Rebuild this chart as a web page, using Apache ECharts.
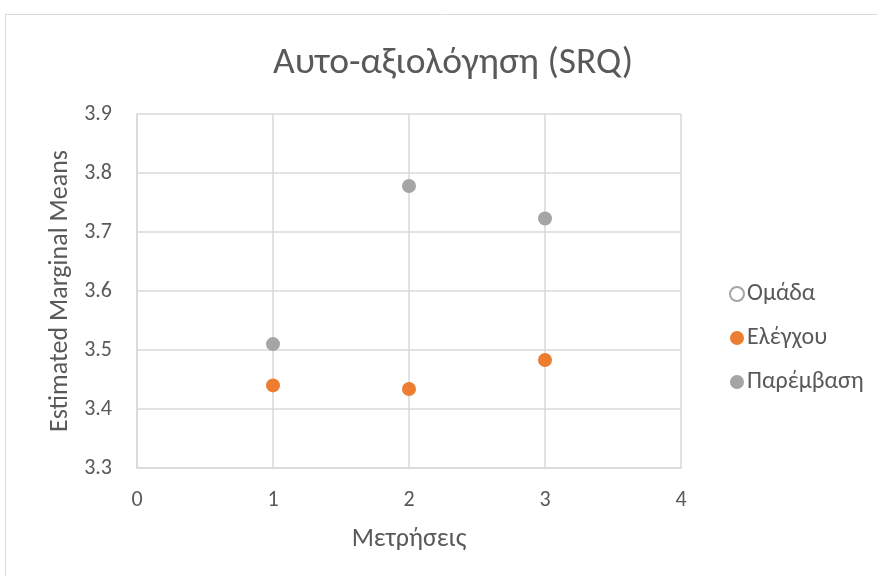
<!DOCTYPE html>
<html>
<head>
<meta charset="utf-8">
<script src="https://cdn.jsdelivr.net/npm/echarts@6/dist/echarts.min.js"></script>
<style>
  html, body { margin: 0; padding: 0; background: #fff; }
  #chart { width: 877px; height: 576px; }
</style>
</head>
<body>
<div id="chart"></div>
<script>
// Measurement occasions and estimated marginal means per group
const measurements = [1, 2, 3];
const controlMeans = [3.440, 3.434, 3.483];
const interventionMeans = [3.510, 3.778, 3.723];
const seriesNames = ['Ομάδα', 'Ελέγχου', 'Παρέμβαση'];

const font = 'Carlito, Lato, "Open Sans", sans-serif';
const textColor = '#595959';
const gridColor = '#d9d9d9';

const toPoints = (xs, ys) => xs.map((x, i) => [x, ys[i]]);

const chart = echarts.init(document.getElementById('chart'), null, { renderer: 'canvas' });
chart.setOption({
  backgroundColor: '#fff',
  animation: false,
  textStyle: { fontFamily: font },
  graphic: [{
    type: 'rect',
    shape: { x: 5.5, y: 14.5, width: 890, height: 580 },
    style: { fill: 'none', stroke: gridColor, lineWidth: 1 },
    silent: true
  }],
  title: {
    text: 'Αυτο-αξιολόγηση (SRQ)',
    left: 268,
    top: 40,
    textStyle: { fontFamily: font, fontSize: 37.5, fontWeight: 'normal', color: textColor }
  },
  grid: { left: 137, right: 196, top: 114, bottom: 108 },
  legend: {
    orient: 'vertical',
    left: 724,
    top: 277,
    itemGap: 20,
    itemWidth: 14,
    itemHeight: 14,
    icon: 'circle',
    textStyle: { fontFamily: font, fontSize: 24, color: textColor, padding: [0, 0, 0, -2] },
    data: seriesNames
  },
  xAxis: {
    type: 'value',
    min: 0, max: 4, interval: 1,
    name: 'Μετρήσεις',
    nameLocation: 'middle',
    nameGap: 58,
    nameTextStyle: { fontFamily: font, fontSize: 26, color: textColor },
    axisLine: { show: true, lineStyle: { color: gridColor, width: 1.5 } },
    axisTick: { show: false },
    axisLabel: { fontFamily: font, fontSize: 22, color: textColor, margin: 21 },
    splitLine: { show: true, lineStyle: { color: gridColor, width: 1.5 } }
  },
  yAxis: {
    type: 'value',
    min: 3.3, max: 3.9, interval: 0.1,
    name: 'Estimated Marginal Means',
    nameLocation: 'middle',
    nameGap: 62,
    nameTextStyle: { fontFamily: font, fontSize: 26, color: textColor },
    axisLine: { show: true, lineStyle: { color: gridColor, width: 1.5 } },
    axisTick: { show: false },
    axisLabel: { fontFamily: font, fontSize: 22, color: textColor, margin: 25,
      formatter: v => v.toFixed(1) },
    splitLine: { show: true, lineStyle: { color: gridColor, width: 1.5 } }
  },
  series: [
    {
      name: seriesNames[0],
      type: 'scatter',
      data: [],
      itemStyle: { color: '#ffffff', borderColor: '#a5a5a5', borderWidth: 1.2, opacity: 1 }
    },
    {
      name: seriesNames[1],
      type: 'scatter',
      symbolSize: 14,
      data: toPoints(measurements, controlMeans),
      itemStyle: { color: '#ed7d31', opacity: 1 }
    },
    {
      name: seriesNames[2],
      type: 'scatter',
      symbolSize: 14,
      data: toPoints(measurements, interventionMeans),
      itemStyle: { color: '#a5a5a5', opacity: 1 }
    }
  ]
});
</script>
</body>
</html>
